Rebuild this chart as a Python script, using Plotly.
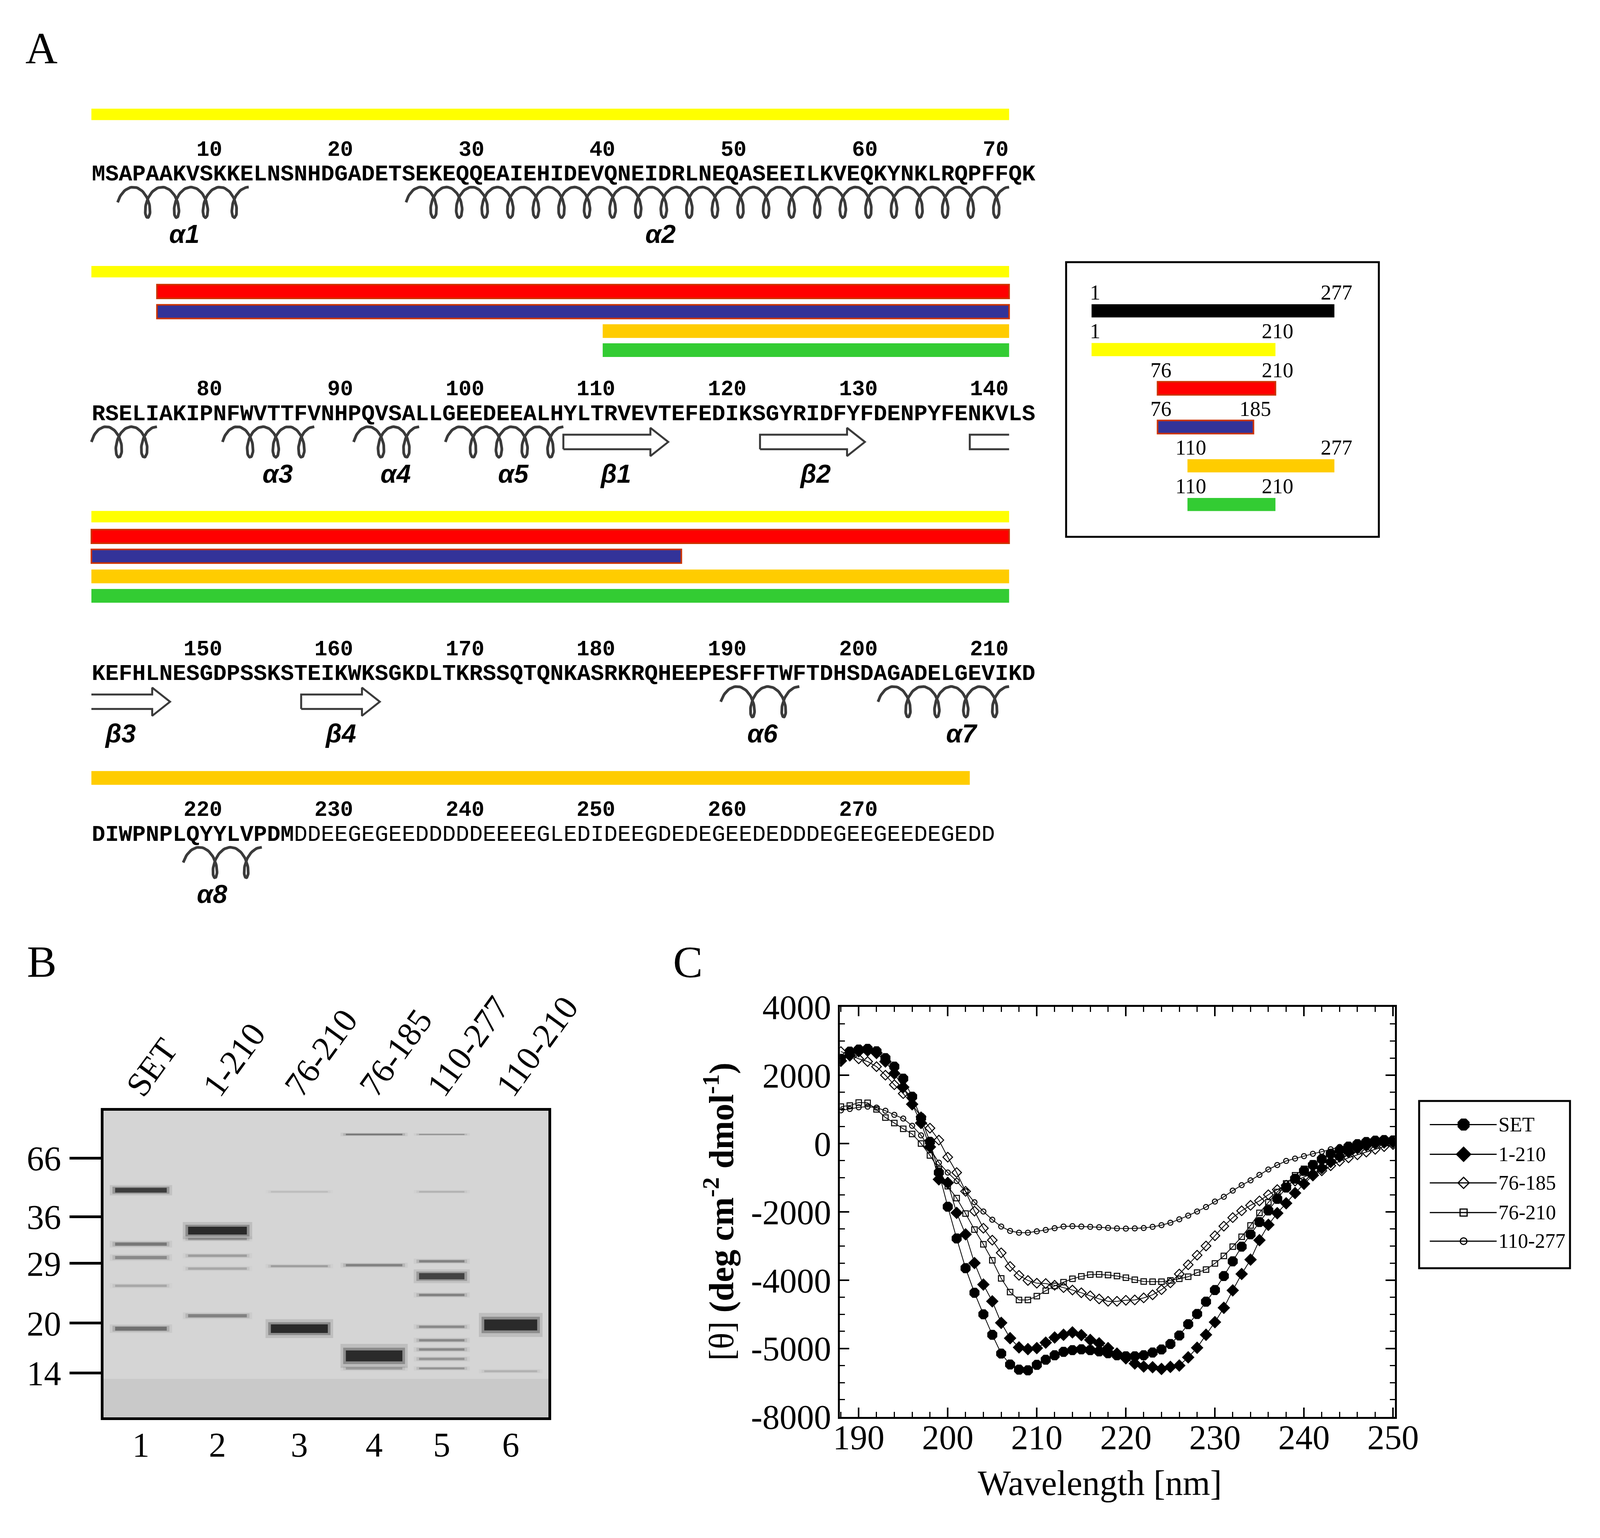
import math
import plotly.graph_objects as go

W, H = 4157, 3938

# ---------------- DATA ----------------
row_start = [1, 71, 141, 211]
row_seq = [
    "MSAPAAKVSKKELNSNHDGADETSEKEQQEAIEHIDEVQNEIDRLNEQASEEILKVEQKYNKLRQPFFQK",
    "RSELIAKIPNFWVTTFVNHPQVSALLGEEDEEALHYLTRVEVTEFEDIKSGYRIDFYFDENPYFENKVLS",
    "KEFHLNESGDPSSKSTEIKWKSGKDLTKRSSQTQNKASRKRQHEEPESFFTWFTDHSDAGADELGEVIKD",
    "DIWPNPLQYYLVPDMDDEEGEGEEDDDDDEEEEGLEDIDEEGDEDEGEEDEDDDEGEEGEEDEGEDD",
]
bold_until = 225

ss_names = ["α1", "α2", "α3", "α4", "α5", "β1", "β2", "β3", "β4", "α6", "α7", "α8"]
ss_kind = ["H", "H", "H", "H", "H", "E", "E", "E", "E", "H", "H", "H"]
ss_start = [3, 25, 81, 91, 98, 107, 122, 138, 157, 189, 201, 218]
ss_end = [12, 75, 87, 95, 106, 114, 129, 146, 162, 194, 210, 223]
ss_label_res = [7.6, 43.9, 84.7, 93.7, 102.7, 110.5, 125.7, 142.7, 159.5, 191.7, 206.9, 219.7]

frag_names = ["SET", "1-210", "76-210", "76-185", "110-277", "110-210"]
frag_start = [1, 1, 76, 76, 110, 110]
frag_end = [277, 210, 210, 185, 277, 210]
frag_color = ["#000000", "#FFFF00", "#FF0000", "#333399", "#FFCC00", "#33CC33"]
frag_border = [None, None, "#CC3300", "#CC3300", None, None]

marker_kda = ["66", "36", "29", "20", "14"]
marker_rf = [0.154, 0.346, 0.498, 0.693, 0.856]
lane_numbers = ["1", "2", "3", "4", "5", "6"]
lane_names = ["SET", "1-210", "76-210", "76-185", "110-277", "110-210"]
lane_pos = [0.084, 0.256, 0.440, 0.608, 0.760, 0.915]
lane_width = [0.140, 0.156, 0.152, 0.151, 0.126, 0.143]
band_rf = [
    [0.259, 0.435, 0.479, 0.571, 0.711],
    [0.391, 0.418, 0.473, 0.515, 0.669],
    [0.711, 0.507, 0.264],
    [0.800, 0.504, 0.077, 0.841],
    [0.540, 0.491, 0.601, 0.705, 0.749, 0.779, 0.810, 0.841, 0.077, 0.264],
    [0.699, 0.850],
]
band_intensity = [
    [0.85, 0.45, 0.35, 0.20, 0.50],
    [1.00, 0.30, 0.25, 0.20, 0.40],
    [1.00, 0.25, 0.10],
    [1.00, 0.40, 0.45, 0.25],
    [0.80, 0.40, 0.40, 0.35, 0.35, 0.35, 0.30, 0.30, 0.30, 0.15],
    [1.00, 0.15],
]
band_thick = [
    [12, 8, 8, 6, 10],
    [20, 6, 6, 6, 8],
    [22, 5, 4],
    [28, 6, 4, 6],
    [16, 6, 6, 6, 6, 6, 6, 5, 3, 4],
    [28, 5],
]

wavelength = list(range(188, 251))
cd_names = ["SET", "1-210", "76-185", "76-210", "110-277"]
cd_set = [2480, 2690, 2750, 2770, 2700, 2500, 2250, 1900, 1370, 750,
          50, -850, -1850, -2780, -3650, -4370, -5000, -5600, -6150, -6470,
          -6620, -6640, -6480, -6330, -6200, -6100, -6050, -6025, -6050, -6085,
          -6140, -6200, -6230, -6230, -6200, -6120, -6030, -5870, -5620, -5290,
          -4990, -4630, -4290, -3880, -3450, -3020, -2660, -2300, -1960, -1620,
          -1290, -1030, -800, -630, -460, -300, -190, -90, -20, 45,
          85, 100, 90]
cd_1_210 = [2420, 2580, 2700, 2720, 2650, 2400, 2050, 1650, 1150, 600,
            -100, -1050, -1150, -2030, -2660, -3500, -4130, -4620, -5250, -5700,
            -5970, -6020, -5990, -5830, -5680, -5600, -5530, -5610, -5750, -5850,
            -5990, -6150, -6290, -6440, -6530, -6550, -6600, -6540, -6500, -6260,
            -5980, -5600, -5230, -4810, -4300, -3820, -3400, -2830, -2380, -2040,
            -1750, -1450, -1180, -930, -720, -540, -380, -250, -140, -60,
            0, 30, 40]
cd_76_185 = [2690, 2600, 2480, 2400, 2250, 2000, 1720, 1460, 1150, 780,
             450, 100, -400, -850, -1400, -1980, -2480, -2830, -3200, -3600,
             -3860, -4010, -4090, -4100, -4150, -4220, -4290, -4370, -4460, -4550,
             -4620, -4620, -4590, -4580, -4520, -4430, -4280, -4080, -3820, -3550,
             -3270, -3000, -2700, -2420, -2170, -1970, -1810, -1680, -1500, -1350,
             -1220, -1100, -980, -880, -800, -650, -520, -420, -330, -250,
             -170, -90, -30]
cd_76_210 = [1080, 1110, 1200, 1190, 1000, 760, 600, 430, 280, 0,
             -350, -750, -1250, -1600, -2050, -2520, -2950, -3420, -3950, -4350,
             -4580, -4580, -4470, -4310, -4170, -4060, -3960, -3890, -3840, -3830,
             -3850, -3880, -3930, -3990, -4040, -4045, -4045, -4010, -3960, -3900,
             -3780, -3690, -3510, -3290, -3020, -2730, -2400, -2030, -1720, -1420,
             -1170, -930, -740, -580, -430, -300, -200, -120, -60, -10,
             30, 50, 60]
cd_110_277 = [970, 1010, 1060, 1080, 1050, 960, 840, 730, 520, 240,
              -150, -560, -850, -1100, -1400, -1720, -1990, -2230, -2430, -2560,
              -2610, -2610, -2570, -2530, -2480, -2430, -2420, -2430, -2440, -2450,
              -2470, -2485, -2490, -2485, -2475, -2440, -2390, -2320, -2220, -2110,
              -1990, -1860, -1700, -1560, -1380, -1220, -1080, -920, -760, -630,
              -510, -440, -370, -300, -240, -170, -100, -50, 0, 35,
              50, 60, 75]
cd_values = [cd_set, cd_1_210, cd_76_185, cd_76_210, cd_110_277]
cd_tickvals = [-8000, -6000, -4000, -2000, 0, 2000, 4000]
cd_ticktext = ["-8000", "-5000", "-4000", "-2000", "0", "2000", "4000"]
cd_xticks = [190, 200, 210, 220, 230, 240, 250]

# ---------------- STYLE / LAYOUT CONSTANTS ----------------
SERIF = "Liberation Serif"
MONO = "Liberation Mono"
SANS = "Liberation Sans"
CW = 34.5
SEQ_X0 = 222
row_y_num = [346, 975, 1657, 2079]
row_y_seq = [410, 1039, 1721, 2143]
row_y_ss = [483, 1112, 1794, 2216]
row_y_lab = [566, 1195, 1877, 2299]
row_bar_y = [[252], [665, 717, 770, 821, 871], [1308, 1360, 1412, 1465, 1516], [1994]]
SS_COLOR = "#3a3a3a"

cd_symbol = ["octagon", "diamond", "diamond-open", "square-open", "circle-open"]
cd_msize = [25, 22, 19, 14, 13]
leg_symbol_size = [30, 28, 22, 18, 17]

fig = go.Figure()
annotations = []
shapes = []


def ann(x, y, text, size, xref="x2", yref="y2", family=SERIF, xanchor="center",
        yanchor="middle", angle=0, xshift=0, yshift=0):
    annotations.append(dict(x=x, y=y, xref=xref, yref=yref, text=text, showarrow=False,
                            font=dict(family=family, size=size, color="black"),
                            xanchor=xanchor, yanchor=yanchor, textangle=angle,
                            xshift=xshift, yshift=yshift, borderpad=0))


ann(90, 78, "A", 114)
ann(91, 2476, "B", 114)
ann(1792, 2478, "C", 114)

# ---------------- PANEL A ----------------
for r, rs in enumerate(row_start):
    seq = row_seq[r]
    nb = max(0, min(len(seq), bold_until - rs + 1))
    txt = "<b>" + seq[:nb] + "</b>" + seq[nb:] if nb < len(seq) else "<b>" + seq + "</b>"
    ann(0, row_y_seq[r], txt, 57.5, xref="x3", family=MONO, xanchor="left")
    re_ = rs + len(seq) - 1
    n = ((rs + 9) // 10) * 10
    while n <= re_:
        ann(n - rs + 1, row_y_num[r], "<b>%d</b>" % n, 55, xref="x3", family=MONO,
            xanchor="right")
        n += 10
    slot = 0
    for f in range(1, len(frag_names)):
        a, b = max(frag_start[f], rs), min(frag_end[f], re_)
        if a > b:
            continue
        yc = row_bar_y[r][slot]
        slot += 1
        th = 30 if frag_color[f] == "#FFFF00" else 36
        bw = 0 if frag_border[f] is None else 4
        shapes.append(dict(type="rect", xref="x3", yref="y2", x0=a - rs, x1=b - rs + 1,
                           y0=yc - th / 2, y1=yc + th / 2, fillcolor=frag_color[f],
                           line=dict(color=frag_border[f] or frag_color[f], width=bw)))

HP, HW, HH = 68 / CW, 22 / CW, 40
EB, EH, EL = 19, 37, 47 / CW


def helix_trace(c0, c1, yc):
    span = c1 - c0
    n = max(1, int(round((span - HW) / HP - 0.25)))
    p = (span - HW) / (n + 0.25)
    A = c0 - p / 4 + HW
    t_end = 2 * math.pi * n + math.pi
    m = 48 * n + 30
    xs, ys = [], []
    for k in range(m + 1):
        t = math.pi / 2 + (t_end - math.pi / 2) * k / m
        xs.append(A + p * t / (2 * math.pi) - HW * math.sin(t))
        ys.append(yc + HH * math.cos(t))
    return xs, ys


def strand_trace(c0, c1, yc, open_left, head):
    if head:
        hx = c1 - EL
        right = [(hx, yc - EB), (hx, yc - EH), (c1, yc), (hx, yc + EH), (hx, yc + EB)]
        if open_left:
            pts = [(c0, yc - EB)] + right + [(c0, yc + EB)]
        else:
            pts = [(c0, yc + EB), (c0, yc - EB)] + right + [(c0, yc + EB)]
    else:
        if open_left:
            pts = [(c0, yc - EB), (c1, yc - EB), None, (c0, yc + EB), (c1, yc + EB)]
        else:
            pts = [(c1, yc - EB), (c0, yc - EB), (c0, yc + EB), (c1, yc + EB)]
    xs = [q[0] if q else None for q in pts]
    ys = [q[1] if q else None for q in pts]
    return xs, ys


for i, name in enumerate(ss_names):
    for r, rs in enumerate(row_start):
        re_ = rs + len(row_seq[r]) - 1
        a, b = max(ss_start[i], rs), min(ss_end[i], re_)
        if a > b:
            continue
        c0, c1 = a - rs, b - rs + 1
        yc = row_y_ss[r]
        if ss_kind[i] == "H":
            xs, ys = helix_trace(c0, c1, yc)
            fig.add_trace(go.Scatter(x=xs, y=ys, mode="lines", xaxis="x3", yaxis="y2",
                                     line=dict(color=SS_COLOR, width=7),
                                     hoverinfo="skip", showlegend=False))
        else:
            xs, ys = strand_trace(c0, c1, yc, open_left=ss_start[i] < rs,
                                  head=ss_end[i] <= re_)
            fig.add_trace(go.Scatter(x=xs, y=ys, mode="lines", xaxis="x3", yaxis="y2",
                                     line=dict(color=SS_COLOR, width=5),
                                     hoverinfo="skip", showlegend=False))
        if rs <= ss_label_res[i] <= re_ + 1:
            ann(ss_label_res[i] - rs + 0.5, row_y_lab[r], "<b><i>%s</i></b>" % name, 66,
                xref="x3", family=SANS)

# fragment overview box
shapes.append(dict(type="rect", xref="x2", yref="y2", x0=2787, x1=3610, y0=640, y1=1361,
                   line=dict(color="black", width=5)))
for i in range(len(frag_names)):
    shapes.append(dict(type="rect", xref="x4", yref="y4", x0=frag_start[i], x1=frag_end[i],
                       y0=i - 0.17, y1=i + 0.17, fillcolor=frag_color[i],
                       line=dict(color=frag_border[i] or frag_color[i],
                                 width=0 if frag_border[i] is None else 4)))
    ann(frag_start[i], i - 0.47, str(frag_start[i]), 54, xref="x4", yref="y4", xshift=9)
    ann(frag_end[i], i - 0.47, str(frag_end[i]), 54, xref="x4", yref="y4", xshift=5)

# ---------------- PANEL B : gel ----------------
shapes.append(dict(type="rect", xref="x5 domain", yref="y5 domain", x0=0, x1=1, y0=0, y1=1,
                   fillcolor="#d5d5d5", line=dict(width=0), layer="below"))
shapes.append(dict(type="rect", xref="x5 domain", yref="y5", x0=0, x1=1, y0=0.875, y1=1.0,
                   fillcolor="#c9c9c9", line=dict(width=0), layer="below"))
for L in range(len(lane_pos)):
    x0 = lane_pos[L] - lane_width[L] / 2
    x1 = lane_pos[L] + lane_width[L] / 2
    for rf, inten, th in zip(band_rf[L], band_intensity[L], band_thick[L]):
        for grow, shrink, alpha in ((2.2, 0.0, 0.12), (1.5, 0.006, 0.30), (1.0, 0.012, 0.85)):
            fig.add_trace(go.Scatter(x=[x0 + shrink, x1 - shrink], y=[rf, rf], mode="lines",
                                     xaxis="x5", yaxis="y5",
                                     line=dict(color="rgba(25,25,25,%.3f)" % (alpha * inten),
                                               width=th * grow),
                                     hoverinfo="skip", showlegend=False))

# ---------------- PANEL C : CD spectra ----------------
for i in reversed(range(len(cd_names))):
    fig.add_trace(go.Scatter(x=wavelength, y=cd_values[i], mode="lines+markers",
                             name=cd_names[i], xaxis="x", yaxis="y",
                             line=dict(color="black", width=2),
                             marker=dict(symbol=cd_symbol[i], size=cd_msize[i], color="black",
                                         line=dict(color="black", width=2.5)),
                             showlegend=False))

ann(1874, 3133, "[θ] <b>(deg cm<sup>-2</sup> dmol<sup>-1</sup>)</b>", 88, angle=-90)
ann(2876, 3845, "Wavelength [nm]", 90)

shapes.append(dict(type="rect", xref="x2", yref="y2", x0=3716, x1=4113, y0=2842, y1=3281,
                   line=dict(color="black", width=5)))
leg_y = [2904, 2982, 3057, 3135, 3210]
for i in range(len(cd_names)):
    fig.add_trace(go.Scatter(x=[3744, 3920], y=[leg_y[i], leg_y[i]], mode="lines",
                             xaxis="x2", yaxis="y2", line=dict(color="black", width=3),
                             hoverinfo="skip", showlegend=False))
    fig.add_trace(go.Scatter(x=[3833], y=[leg_y[i]], mode="markers", xaxis="x2", yaxis="y2",
                             marker=dict(symbol=cd_symbol[i], size=leg_symbol_size[i],
                                         color="black", line=dict(color="black", width=3)),
                             hoverinfo="skip", showlegend=False))
    ann(3924, leg_y[i], cd_names[i], 52, xanchor="left")

# ---------------- LAYOUT ----------------
hidden = dict(visible=False, showgrid=False, zeroline=False, fixedrange=True)
x3_lo, x3_hi = SEQ_X0 - CW, SEQ_X0 + 71 * CW
px_per_res = (3493 - 2854) / 276.0
x4_lo, x4_hi = 2854 - 10 * px_per_res, 3493 + 10 * px_per_res

axis_font = dict(family=SERIF, size=88, color="black")
fig.update_layout(
    width=W, height=H, autosize=False,
    margin=dict(l=0, r=0, t=0, b=0, pad=0),
    paper_bgcolor="white", plot_bgcolor="rgba(0,0,0,0)",
    showlegend=False,
    xaxis=dict(domain=[2192 / W, 3652 / W], range=[187.9, 250.2], anchor="y",
               tickvals=cd_xticks, ticks="inside", ticklen=24, tickwidth=4, tickcolor="black",
               minor=dict(dtick=2, tick0=190, ticks="inside", ticklen=13, tickwidth=3,
                          tickcolor="black"),
               showline=True, linewidth=5, linecolor="black", mirror="allticks",
               showgrid=False, zeroline=False, tickfont=axis_font, ticklabelstandoff=-28),
    yaxis=dict(domain=[1 - 3671 / H, 1 - 2595 / H], range=[-8000, 4000], anchor="x",
               tickvals=cd_tickvals, ticktext=cd_ticktext, ticks="inside", ticklen=24,
               tickwidth=4, tickcolor="black",
               minor=dict(dtick=500, tick0=0, ticks="inside", ticklen=13, tickwidth=3,
                          tickcolor="black"),
               showline=True, linewidth=5, linecolor="black", mirror="allticks",
               showgrid=False, zeroline=False, tickfont=axis_font, ticklabelstandoff=0),
    xaxis2=dict(domain=[0, 1], range=[0, W], anchor="y2", **hidden),
    yaxis2=dict(domain=[0, 1], range=[H, 0], anchor="x2", **hidden),
    xaxis3=dict(domain=[x3_lo / W, x3_hi / W], range=[-1, 71], anchor="y2", **hidden),
    xaxis4=dict(domain=[x4_lo / W, x4_hi / W], range=[-9, 287], anchor="y4", **hidden),
    yaxis4=dict(domain=[1 - 1327 / H, 1 - 717 / H], range=[5.5, -0.5], anchor="x4", **hidden),
    xaxis5=dict(domain=[254 / W, 1425 / W], range=[0, 1], anchor="y5",
                tickvals=lane_pos, ticktext=lane_numbers, ticks="",
                tickfont=dict(family=SERIF, size=88, color="black"), ticklabelstandoff=-12,
                showline=True, linewidth=7, linecolor="black", mirror=True,
                showgrid=False, zeroline=False, fixedrange=True),
    yaxis5=dict(domain=[1 - 3672 / H, 1 - 2868 / H], range=[1, 0], anchor="x5",
                tickvals=marker_rf, ticktext=marker_kda, ticks="outside", ticklen=80,
                tickwidth=7, tickcolor="black",
                tickfont=dict(family=SERIF, size=88, color="black"), ticklabelstandoff=4,
                showline=True, linewidth=7, linecolor="black", mirror=True,
                showgrid=False, zeroline=False, fixedrange=True),
    xaxis6=dict(overlaying="x5", side="top", range=[0.026, 1.026], anchor="y5",
                tickvals=lane_pos, ticktext=lane_names, ticks="", tickangle=-54,
                tickfont=dict(family=SERIF, size=88, color="black"), ticklabelstandoff=-6,
                showline=False, showgrid=False, zeroline=False, fixedrange=True),
    annotations=annotations,
    shapes=shapes,
)
fig.add_trace(go.Scatter(x=[0.5], y=[0.5], xaxis="x6", yaxis="y5", mode="markers",
                         marker=dict(opacity=0), hoverinfo="skip", showlegend=False))

post = ("document.documentElement.style.margin='0';document.body.style.margin='0';"
        "document.body.style.padding='0';document.body.style.overflow='hidden';"
        "var d=document.querySelector('.plotly-graph-div');"
        "d.style.position='absolute';d.style.left='0px';d.style.top='0px';"
        "window.scrollTo(0,0);")
fig.write_html("out.html", include_plotlyjs=True, full_html=True,
               config={"displayModeBar": False, "staticPlot": True}, post_script=post)
